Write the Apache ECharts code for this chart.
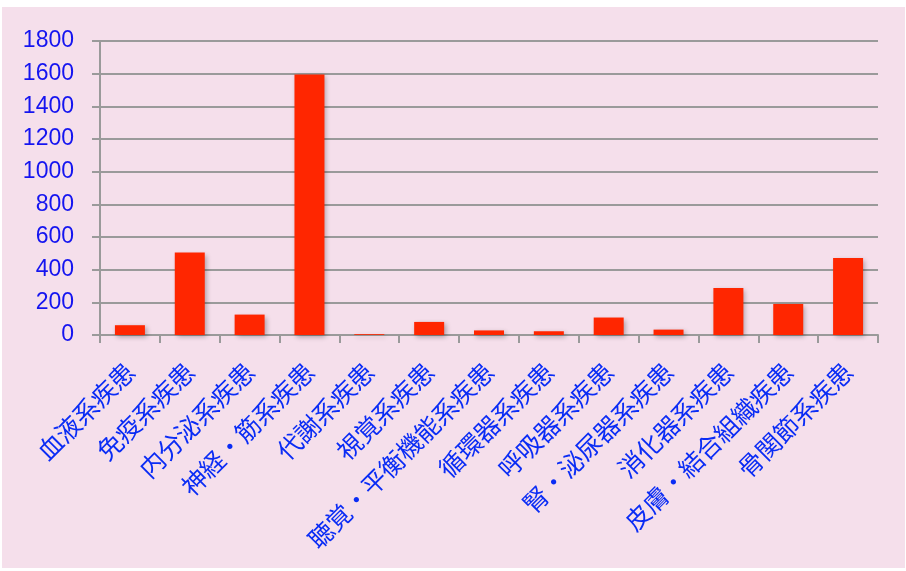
<!DOCTYPE html>
<html>
<head>
<meta charset="utf-8">
<script src="https://cdn.jsdelivr.net/npm/echarts@6/dist/echarts.min.js"></script>
<style>
html,body{margin:0;padding:0;background:#ffffff;width:906px;height:571px;overflow:hidden;}
#chart{position:absolute;left:2px;top:7px;width:903px;height:561px;background:#F5DFEB;}
</style>
</head>
<body>
<div id="chart"></div>
<script>
const categories = ['血液系疾患','免疫系疾患','内分泌系疾患','神経・筋系疾患','代謝系疾患','視覚系疾患','聴覚・平衡機能系疾患','循環器系疾患','呼吸器系疾患','腎・泌尿器系疾患','消化器系疾患','皮膚・結合組織疾患','骨関節系疾患'];
const values = [60, 505, 125, 1595, 5, 80, 28, 23, 107, 33, 288, 190, 472];
const yTicks = [0, 200, 400, 600, 800, 1000, 1200, 1400, 1600, 1800];

const chart = echarts.init(document.getElementById('chart'));
chart.setOption({
  animation: false,
  backgroundColor: 'transparent',
  grid: {left: 98, top: 34, right: 27, bottom: 233, containLabel: false},
  xAxis: {
    type: 'category',
    data: categories,
    boundaryGap: true,
    axisLine: {show: true, lineStyle: {color: '#9a9a9a', width: 2}},
    axisTick: {show: true, length: 8, lineStyle: {color: '#9a9a9a', width: 2}},
    axisLabel: {
      interval: 0, rotate: 45, margin: 32,
      color: '#0a2cf5', fontSize: 25,
      fontFamily: '"Noto Sans CJK JP", sans-serif'
    }
  },
  yAxis: {
    type: 'value',
    min: yTicks[0], max: yTicks[yTicks.length - 1], interval: 200,
    axisLine: {show: true, lineStyle: {color: '#9a9a9a', width: 2}},
    axisTick: {show: true, length: 8, lineStyle: {color: '#9a9a9a', width: 2}},
    splitLine: {show: true, lineStyle: {color: '#9a9a9a', width: 2}},
    axisLabel: {
      margin: 26, color: '#1414f0', fontSize: 23,
      fontFamily: '"Liberation Sans", Arial, sans-serif',
      formatter: function (v) { return String(v); }
    }
  },
  series: [{
    type: 'bar',
    data: values,
    barWidth: 30,
    itemStyle: {
      color: '#FF2600',
      shadowBlur: 5, shadowColor: 'rgba(0,0,0,0.3)', shadowOffsetX: 2, shadowOffsetY: 2
    }
  }]
});
</script>
</body>
</html>
